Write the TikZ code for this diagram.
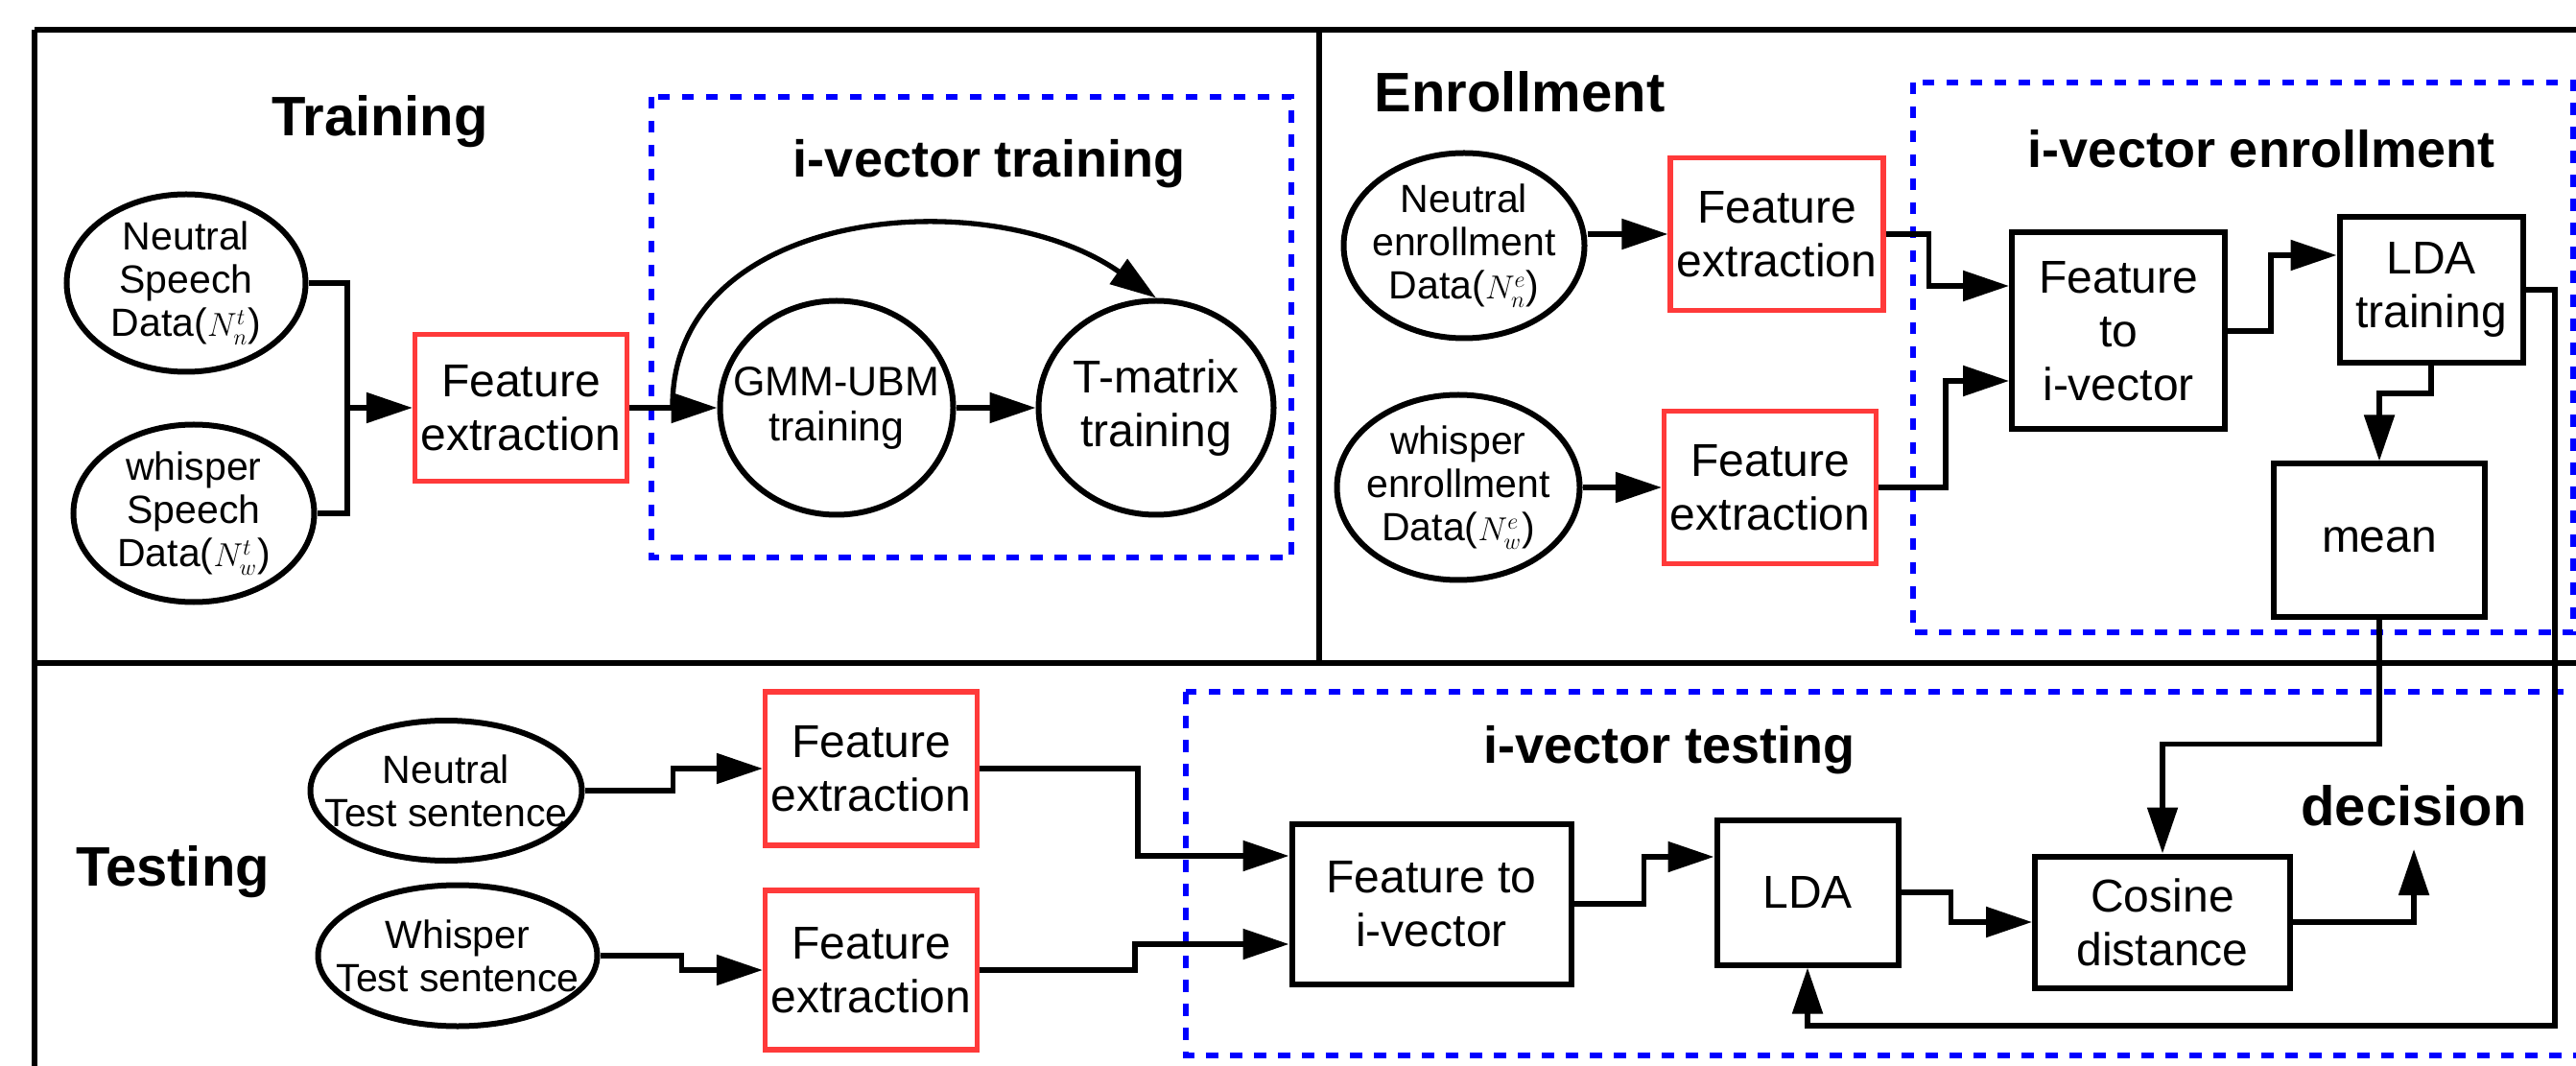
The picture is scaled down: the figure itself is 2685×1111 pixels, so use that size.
\documentclass[tikz,border=0pt]{standalone}
\usepackage{fontspec}
\setmainfont{Liberation Sans}
\usetikzlibrary{shapes.geometric,arrows.meta,calc}
\definecolor{fered}{RGB}{255,58,58}
\definecolor{grpblue}{RGB}{0,0,255}
\newcommand\nsubsz{\fontsize{16.5}{17}\selectfont}
\begin{document}
\begin{tikzpicture}[x=0.5pt,y=-0.5pt,
  every node/.style={inner sep=0pt},
  dat/.style={draw, ellipse, line width=3pt},
  dtext/.style={align=center, font=\fontsize{20.5}{22.5}\selectfont},
  blk/.style={draw, rectangle, line width=3pt, align=center, font=\fontsize{24}{28}\selectfont},
  fex/.style={blk, draw=fered, line width=2.6pt},
  grp/.style={draw=grpblue, line width=3pt, dash pattern=on 6.25pt off 6.25pt},
  sect/.style={anchor=base, font=\bfseries\fontsize{29}{34}\selectfont},
  subsect/.style={anchor=base, font=\bfseries\fontsize{27}{32}\selectfont},
  con/.style={line width=2.65pt},
  arr/.style={con, -{Triangle[length=24pt,width=15.5pt]}},
  panel/.style={line width=2.8pt}]
\useasboundingbox (0,0) rectangle (2685,1111);

% panel frame
\draw[panel] (36,31) -- (2700,31);
\draw[panel] (36,31) -- (36,1120);
\draw[panel] (1375,31) -- (1375,691);
\draw[panel] (36,691) -- (2700,691);

% dashed i-vector groups
\draw[grp] (679,101) rectangle (1346,581);
\draw[grp] (1994,86) rectangle (2682,659);
\draw[grp] (1236,721) rectangle (2700,1100);

% section titles
\node[sect] (ttrain) at (396,142) {Training};
\node[subsect] (tivt) at (1031,185) {i-vector training};
\node[sect] (tenr) at (1584,117) {Enrollment};
\node[subsect] (tive) at (2357,175) {i-vector enrollment};
\node[sect] (ttest) at (180,923) {Testing};
\node[subsect] (tivs) at (1740,795) {i-vector testing};
\node[sect] (tdec) at (2516,860) {decision};

% ---------- training ----------
\node[dat, minimum width=124.5pt, minimum height=92.5pt] (nsp) at (194,295) {};
\node[dtext] (nsp-t) at (nsp) {Neutral\\Speech\\Data({\nsubsz$N^{t}_{n}$})};
\node[dat, minimum width=125.5pt, minimum height=92.5pt] (wsp) at (202,535) {};
\node[dtext] (wsp-t) at (wsp) {whisper\\Speech\\Data({\nsubsz$N^{t}_{w}$})};
\node[fex, minimum width=110.5pt, minimum height=76.5pt] (fe1) at (543,425) {Feature\\extraction};
\node[dat, minimum width=121.5pt, minimum height=111.5pt] (gmm) at (872,425) {};
\node[dtext, font=\fontsize{21.5}{23.5}\selectfont] (gmm-t) at (gmm) {GMM-UBM\\training};
\node[dat, minimum width=122.5pt, minimum height=111.5pt] (tmat) at (1205,425) {};
\node[dtext, font=\fontsize{24}{28}\selectfont] (tmat-t) at (tmat) {T-matrix\\training};

\coordinate (jt) at (362,425);
\draw[con] (nsp.east) -| (jt) |- (wsp.east);
\draw[arr] (jt) -- (fe1.west);
\draw[arr] (fe1.east) -- (gmm.west);
\draw[arr] (gmm.east) -- (tmat.west);
\coordinate (cb) at (701,425);
\draw[arr] (cb) .. controls (699,215) and (1031,188) .. (tmat.north);

% ---------- enrollment ----------
\node[dat, minimum width=125.5pt, minimum height=96.5pt] (nen) at (1526,256) {};
\node[dtext] (nen-t) at (nen) {Neutral\\enrollment\\Data({\nsubsz$N^{e}_{n}$})};
\node[dat, minimum width=126.5pt, minimum height=96.5pt] (wen) at (1520,508) {};
\node[dtext] (wen-t) at (wen) {whisper\\enrollment\\Data({\nsubsz$N^{e}_{w}$})};
\node[fex, minimum width=111pt, minimum height=79.5pt] (fe2) at (1852,244) {Feature\\extraction};
\node[fex, minimum width=110.5pt, minimum height=79.5pt] (fe3) at (1845,508) {Feature\\extraction};
\node[blk, minimum width=111pt, minimum height=102.5pt] (f2i) at (2208,345) {Feature\\to\\i-vector};
\node[blk, minimum width=95.5pt, minimum height=76pt] (ldat) at (2534,302) {LDA\\training};
\node[blk, minimum width=110pt, minimum height=79.5pt] (mean) at (2480,563) {mean};

\draw[arr] (nen.east |- fe2.west) -- (fe2.west);
\draw[arr] (wen.east) -- (fe3.west);
\draw[arr] (fe2.east) -- ++(45,0) |- ($(f2i.west)+(0,-47)$);
\draw[arr] (fe3.east) -- ++(70,0) |- ($(f2i.west)+(0,52)$);
\draw[arr] (f2i.east) -- ++(45,0) |- ($(ldat.west)+(0,-36)$);
\draw[arr] (ldat.south) -- ++(0,29) -| (mean.north);

% ---------- testing ----------
\node[dat, minimum width=141.5pt, minimum height=73pt] (nts) at (465,824) {};
\node[dtext] (nts-t) at (nts) {Neutral\\Test sentence};
\node[dat, minimum width=145.5pt, minimum height=73.5pt] (wts) at (477,996) {};
\node[dtext] (wts-t) at (wts) {Whisper\\Test sentence};
\node[fex, minimum width=110.5pt, minimum height=80pt] (fe4) at (908,801) {Feature\\extraction};
\node[fex, minimum width=110.5pt, minimum height=83pt] (fe5) at (908,1011) {Feature\\extraction};
\node[blk, minimum width=145.5pt, minimum height=83.5pt] (f2it) at (1492,942) {Feature to\\i-vector};
\node[blk, minimum width=94.5pt, minimum height=75.5pt] (lda) at (1884,930) {LDA};
\node[blk, minimum width=133pt, minimum height=68.5pt] (cos) at (2254,961) {Cosine\\distance};

\draw[arr] (nts.east) -- ++(92,0) |- (fe4.west);
\draw[arr] (wts.east) -- ++(85,0) |- (fe5.west);
\draw[arr] (fe4.east) -- ++(165,0) |- ($(f2it.west)+(0,-50)$);
\draw[arr] (fe5.east) -- ++(162,0) |- ($(f2it.west)+(0,42)$);
\draw[arr] (f2it.east) -- ++(73,0) |- ($(lda.west)+(0,-37)$);
\draw[arr] (lda.east) -- ++(52,0) |- (cos.west);
\coordinate (dec) at (2516,885);
\draw[arr] (cos.east) -| (dec);

% links between enrollment and testing
\coordinate (rb) at (2663,1069);
\draw[arr] (ldat.east) -| (rb) -| (lda.south);
\draw[arr] (mean.south) -- ++(0,130) -| (cos.north);
\end{tikzpicture}
\end{document}
